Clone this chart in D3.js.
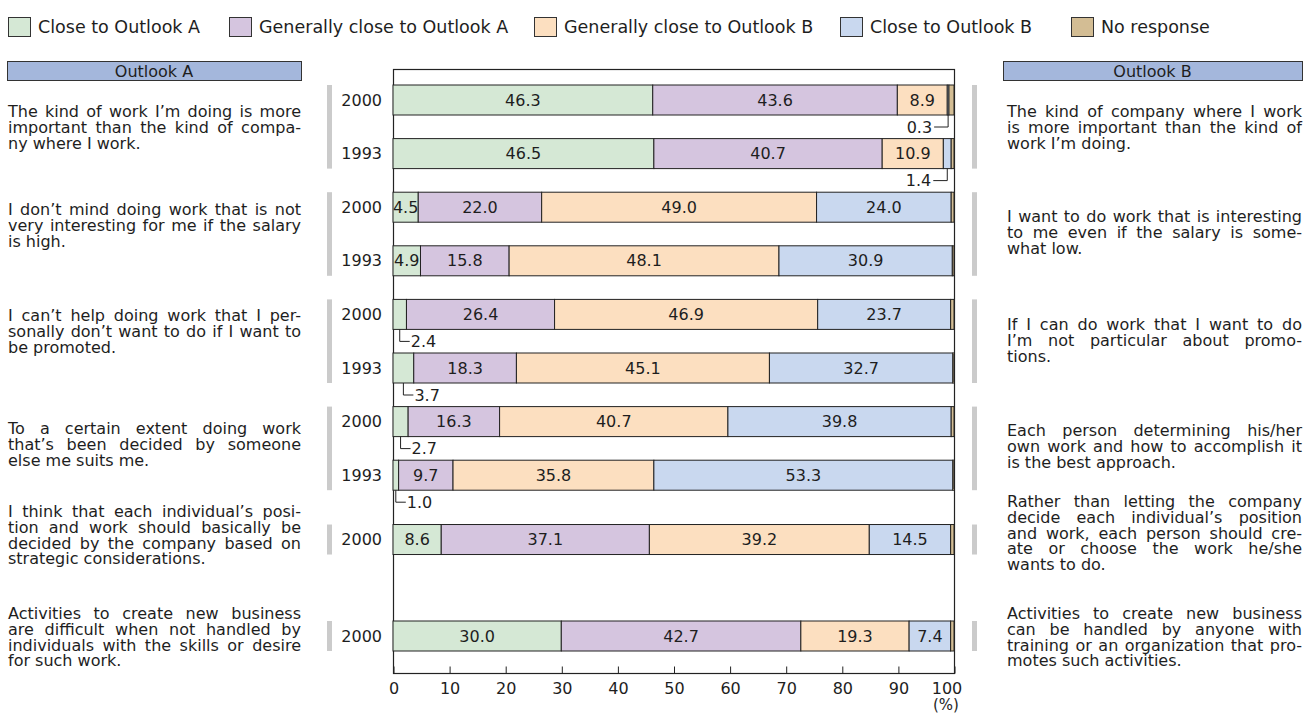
<!DOCTYPE html>
<html>
<head>
<meta charset="utf-8">
<script src="https://cdn.jsdelivr.net/npm/d3@7"></script>
<style>
  html, body { margin: 0; padding: 0; background: #ffffff; }
  svg { display: block; font-family: "DejaVu Sans", sans-serif; }
</style>
</head>
<body>
<svg id="chart" width="1314" height="713"></svg>
<script>
// ---- data ----
const seriesNames = ["Close to Outlook A", "Generally close to Outlook A", "Generally close to Outlook B", "Close to Outlook B", "No response"];
const seriesKeys = ["closeA", "genA", "genB", "closeB", "noResp"];
const seriesColors = ["#d5e8d5", "#d5c5df", "#fcdfc0", "#c9d8ef", "#d3bd94"];

const rowYears = ["2000", "1993", "2000", "1993", "2000", "1993", "2000", "1993", "2000", "2000"];
const rowGroup = [0, 0, 1, 1, 2, 2, 3, 3, 4, 5];

const closeA = [46.3, 46.5, 4.5, 4.9, 2.4, 3.7, 2.7, 1.0, 8.6, 30.0];
const genA   = [43.6, 40.7, 22.0, 15.8, 26.4, 18.3, 16.3, 9.7, 37.1, 42.7];
const genB   = [8.9, 10.9, 49.0, 48.1, 46.9, 45.1, 40.7, 35.8, 39.2, 19.3];
const closeB = [0.3, 1.4, 24.0, 30.9, 23.7, 32.7, 39.8, 53.3, 14.5, 7.4];
const noResp = [0.9, 0.5, 0.5, 0.3, 0.6, 0.2, 0.5, 0.2, 0.6, 0.6];

const tickValues = [0, 10, 20, 30, 40, 50, 60, 70, 80, 90, 100];
const unitLabel = "(%)";

const headerA = "Outlook A";
const headerB = "Outlook B";

const outlookA = [
  ["The kind of work I’m doing is more", "important than the kind of compa-", "ny where I work."],
  ["I don’t mind doing work that is not", "very interesting for me if the salary", "is high."],
  ["I can’t help doing work that I per-", "sonally don’t want to do if I want to", "be promoted."],
  ["To a certain extent doing work", "that’s been decided by someone", "else me suits me."],
  ["I think that each individual’s posi-", "tion and work should basically be", "decided by the company based on", "strategic considerations."],
  ["Activities to create new business", "are difficult when not handled by", "individuals with the skills or desire", "for such work."]
];
const outlookB = [
  ["The kind of company where I work", "is more important than the kind of", "work I’m doing."],
  ["I want to do work that is interesting", "to me even if the salary is some-", "what low."],
  ["If I can do work that I want to do", "I’m not particular about promo-", "tions."],
  ["Each person determining his/her", "own work and how to accomplish it", "is the best approach."],
  ["Rather than letting the company", "decide each individual’s position", "and work, each person should cre-", "ate or choose the work he/she", "wants to do."],
  ["Activities to create new business", "can be handled by anyone with", "training or an organization that pro-", "motes such activities."]
];

// ---- layout ----
const FONT = 16;
const INK = "#1e1e1e";
const rowSlot = [0, 1, 2, 3, 4, 5, 6, 7, 8.2, 10];   // vertical slot of each bar row
const plot = { left: 393, right: 954, top: 69, bottom: 673 };
const barH = 30;
const lineH = 15.8;
const leftCol = { x: 8, w: 293 };
const rightCol = { x: 1007, w: 295 };
const leftBase = [117, 215, 321, 434, 517, 619];
const rightBase = [117, 222, 330, 436, 507, 619];

const svg = d3.select("#chart");

const x = d3.scaleLinear().domain([0, 100]).range([plot.left, plot.right]);
const y = d3.scaleLinear().domain([0, 10]).range([85, 621]);

// ---- legend ----
const legendX = [8, 229, 534, 840, 1071];
const legend = svg.append("g").attr("class", "legend");
seriesNames.forEach((name, i) => {
  const g = legend.append("g").attr("transform", `translate(${legendX[i]},0)`);
  g.append("rect").attr("x", 0.5).attr("y", 17.5).attr("width", 22).attr("height", 19)
    .attr("fill", seriesColors[i]).attr("stroke", "#333").attr("stroke-width", 1);
  g.append("text").attr("x", 30).attr("y", 33).attr("font-size", 17.5).attr("fill", INK).text(name);
});

// ---- table for the stack ----
const rows = rowYears.map((yr, i) => ({
  year: yr, slot: rowSlot[i], group: rowGroup[i],
  closeA: closeA[i], genA: genA[i], genB: genB[i], closeB: closeB[i], noResp: noResp[i]
}));
const stacked = d3.stack().keys(seriesKeys)(rows);

// ---- frame ----
svg.append("rect")
  .attr("x", plot.left + 0.5).attr("y", plot.top + 0.5)
  .attr("width", plot.right - plot.left).attr("height", plot.bottom - plot.top)
  .attr("fill", "none").attr("stroke", "#222").attr("stroke-width", 1.2);

// ---- bars ----
const barsG = svg.append("g");
stacked.forEach((layer, k) => {
  barsG.selectAll(null).data(layer).join("rect")
    .attr("x", d => x(d[0]))
    .attr("y", d => y(d.data.slot))
    .attr("width", d => x(d[1]) - x(d[0]))
    .attr("height", barH)
    .attr("fill", seriesColors[k])
    .attr("stroke", "#222")
    .attr("stroke-width", 1);
});

// ---- value labels ----
const labG = svg.append("g").attr("font-size", FONT).attr("fill", INK);
stacked.forEach((layer, k) => {
  if (seriesKeys[k] === "noResp") return;
  layer.forEach(d => {
    const val = d.data[seriesKeys[k]];
    const top = y(d.data.slot);
    const cx = x((d[0] + d[1]) / 2);
    if (val >= 4) {
      labG.append("text")
        .attr("x", cx).attr("y", top + barH / 2)
        .attr("text-anchor", "middle").attr("dominant-baseline", "central")
        .text(val.toFixed(1));
    } else {
      // small share: label below the bar with an elbow leader
      const by = top + barH;
      const ly = by + 12;
      const toRight = d[0] < 50;
      const ex = toRight ? cx + 10 : cx - 14;
      labG.append("path")
        .attr("d", `M${cx},${by}V${ly}H${ex}`)
        .attr("fill", "none").attr("stroke", "#222").attr("stroke-width", 1);
      labG.append("text")
        .attr("x", toRight ? ex + 1 : ex - 2).attr("y", ly)
        .attr("text-anchor", toRight ? "start" : "end")
        .attr("dominant-baseline", "central")
        .text(val.toFixed(1));
    }
  });
});

// ---- year labels ----
svg.append("g").attr("font-size", FONT).attr("fill", INK)
  .selectAll("text").data(rows).join("text")
  .attr("x", 382).attr("y", d => y(d.slot) + barH / 2)
  .attr("text-anchor", "end").attr("dominant-baseline", "central")
  .text(d => d.year);

// ---- axis ----
const axis = d3.axisBottom(x).tickValues(tickValues).tickSizeInner(-7).tickSizeOuter(0).tickPadding(9)
  .tickFormat(d3.format("d"));
const axG = svg.append("g").attr("transform", `translate(0.5,${plot.bottom + 0.5})`).call(axis);
axG.select(".domain").remove();
axG.selectAll(".tick line").attr("stroke", "#222");
axG.selectAll(".tick text").attr("font-size", FONT).attr("font-family", "DejaVu Sans").attr("fill", INK)
  .attr("dx", d => d === 100 ? -8 : 0);
svg.append("text").attr("x", 946).attr("y", 710).attr("text-anchor", "middle")
  .attr("font-size", 15).attr("fill", INK).text(unitLabel);

// ---- group side markers ----
const groups = d3.groups(rows, d => d.group).map(([g, rs]) => ({
  top: y(d3.min(rs, r => r.slot)), bottom: y(d3.max(rs, r => r.slot)) + barH
}));
[327, 972].forEach(gx => {
  svg.append("g").selectAll("rect").data(groups).join("rect")
    .attr("x", gx).attr("width", 5)
    .attr("y", d => d.top).attr("height", d => d.bottom - d.top)
    .attr("fill", "#cbcbcb");
});

// ---- headers ----
function header(xp, w, label) {
  svg.append("rect").attr("x", xp + 0.5).attr("y", 61.5).attr("width", w).attr("height", 19)
    .attr("fill", "#a4b7dc").attr("stroke", "#333").attr("stroke-width", 1);
  svg.append("text").attr("x", xp + w / 2).attr("y", 76.5).attr("text-anchor", "middle")
    .attr("font-size", FONT).attr("fill", INK).text(label);
}
header(7, 294, headerA);
header(1003, 299, headerB);

// ---- justified paragraphs: one text per line, gaps widened with word-spacing ----
function paragraph(lines, x0, width, y0) {
  const g = svg.append("g").attr("font-size", FONT).attr("fill", INK);
  lines.forEach((line, i) => {
    const t = g.append("text").attr("x", x0).attr("y", y0 + i * lineH).text(line);
    const gaps = line.split(" ").length - 1;
    if (i < lines.length - 1 && gaps > 0) {
      const natural = t.node().getComputedTextLength();
      t.attr("word-spacing", (width - natural) / gaps);
    }
  });
}
outlookA.forEach((lines, i) => paragraph(lines, leftCol.x, leftCol.w, leftBase[i]));
outlookB.forEach((lines, i) => paragraph(lines, rightCol.x, rightCol.w, rightBase[i]));
</script>
</body>
</html>
